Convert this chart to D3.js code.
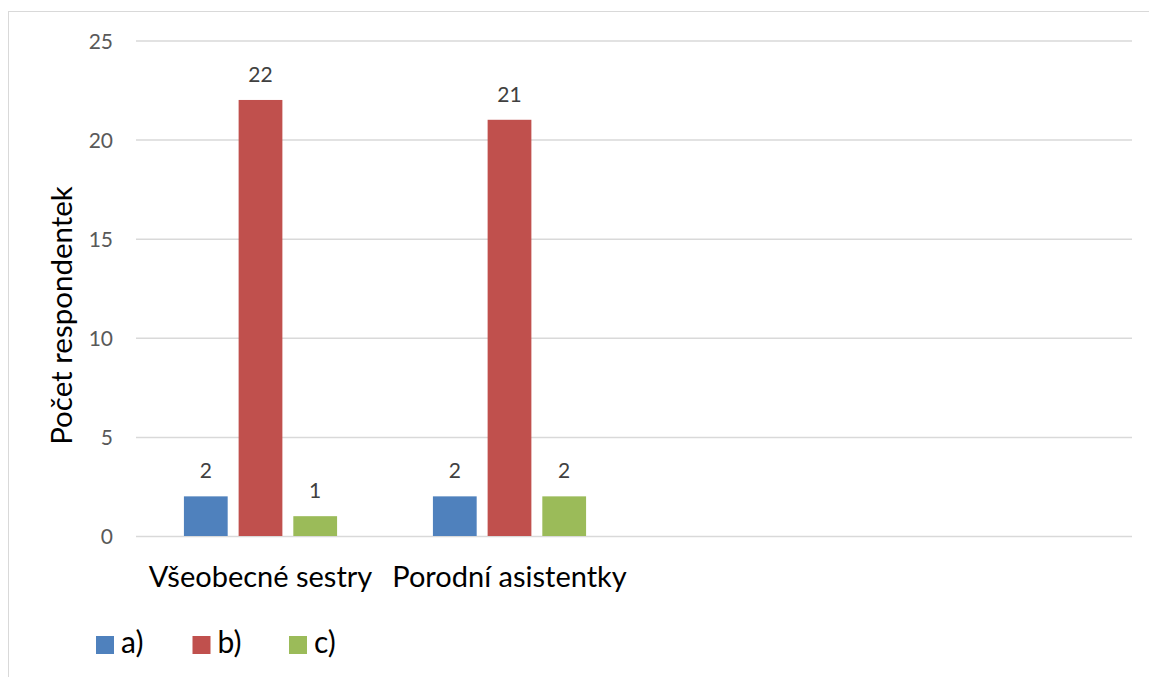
<!DOCTYPE html>
<html>
<head>
<meta charset="utf-8">
<script src="https://cdn.jsdelivr.net/npm/d3@7"></script>
<style>
  html, body { margin: 0; padding: 0; background: #fff; }
  svg { display: block; }
  svg text { font-family: Lato, "Open Sans", "DejaVu Sans", sans-serif; }
</style>
</head>
<body>
<svg id="chart" width="1149" height="677"></svg>
<script>
// Categories (the last two slots of the category axis are empty)
const categories = ["Všeobecné sestry", "Porodní asistentky", "", ""];
const seriesNames = ["a)", "b)", "c)"];
const seriesA = [2, 2, null, null];
const seriesB = [22, 21, null, null];
const seriesC = [1, 2, null, null];
const yTicks = [0, 5, 10, 15, 20, 25];
const colors = ["#4F81BD", "#C0504D", "#9BBB59"];
const axisTitle = "Počet respondentek";

const seriesValues = [seriesA, seriesB, seriesC];
const FONT = "Lato, 'Open Sans', 'DejaVu Sans', sans-serif";

const svg = d3.select("#chart");

// Outer chart frame
svg.append("rect")
  .attr("x", 8.5).attr("y", 11.5)
  .attr("width", 1200).attr("height", 700)
  .attr("fill", "none").attr("stroke", "#d9d9d9").attr("stroke-width", 1);

const plot = { left: 136, right: 1132, top: 40.5, bottom: 536 };

const x0 = d3.scaleBand()
  .domain(d3.range(categories.length))
  .range([plot.left, plot.right])
  .paddingInner(0).paddingOuter(0);

const x1 = d3.scaleBand()
  .domain(d3.range(seriesNames.length))
  .range([0, x0.bandwidth()])
  .paddingInner(0.2)
  .paddingOuter(0.876);

const y = d3.scaleLinear().domain([0, 25]).range([plot.bottom, plot.top]);

// Horizontal gridlines + value axis labels
const yAxis = d3.axisLeft(y)
  .tickValues(yTicks)
  .tickSize(-(plot.right - plot.left))
  .tickPadding(23)
  .tickFormat(d3.format("d"));

const gy = svg.append("g")
  .attr("transform", `translate(${plot.left},0)`)
  .call(yAxis)
  .attr("font-family", FONT);
gy.select(".domain").remove();
gy.selectAll(".tick line").attr("stroke", "#d9d9d9").attr("stroke-width", 1.5);
gy.selectAll(".tick text")
  .attr("fill", "#595959")
  .style("font-size", "21px")
  .attr("dy", "0.36em");

// Bars
const groups = svg.append("g").selectAll("g")
  .data(categories.map((c, i) => ({ c, i })))
  .join("g")
  .attr("transform", d => `translate(${x0(d.i)},0)`);

const barData = d => seriesValues.map((vals, s) => ({ s, v: vals[d.i] })).filter(e => e.v != null);

groups.selectAll("rect")
  .data(barData)
  .join("rect")
  .attr("x", e => x1(e.s))
  .attr("y", e => y(e.v))
  .attr("width", x1.bandwidth())
  .attr("height", e => y(0) - y(e.v))
  .attr("fill", e => colors[e.s]);

// Value labels
groups.selectAll("text.val")
  .data(barData)
  .join("text")
  .attr("class", "val")
  .attr("x", e => x1(e.s) + x1.bandwidth() / 2)
  .attr("y", e => y(e.v) - 18)
  .attr("text-anchor", "middle")
  .attr("fill", "#404040")
  .style("font-size", "21px")
  .text(e => e.v);

// Category axis labels
const xAxis = d3.axisBottom(x0)
  .tickSize(0)
  .tickPadding(0)
  .tickFormat(i => categories[i]);

const gx = svg.append("g")
  .attr("transform", `translate(0,${plot.bottom})`)
  .call(xAxis)
  .attr("font-family", FONT);
gx.select(".domain").remove();
gx.selectAll(".tick text")
  .attr("fill", "#000")
  .attr("y", 51)
  .attr("dy", 0)
  .style("font-size", "29px");

// Value axis title
svg.append("text")
  .attr("transform", "translate(72,315.5) rotate(-90)")
  .attr("text-anchor", "middle")
  .attr("fill", "#000")
  .style("font-size", "29.5px")
  .text(axisTitle);

// Legend
const legendX = d3.scalePoint()
  .domain(d3.range(seriesNames.length))
  .range([96, 289]);

const legend = svg.append("g").selectAll("g")
  .data(seriesNames.map((n, i) => ({ n, i })))
  .join("g")
  .attr("transform", d => `translate(${legendX(d.i)},636)`);

legend.append("rect")
  .attr("width", 18).attr("height", 18)
  .attr("fill", d => colors[d.i]);

legend.append("text")
  .attr("x", 25).attr("y", 17)
  .attr("fill", "#000")
  .style("font-size", "30px")
  .text(d => d.n);
</script>
</body>
</html>
